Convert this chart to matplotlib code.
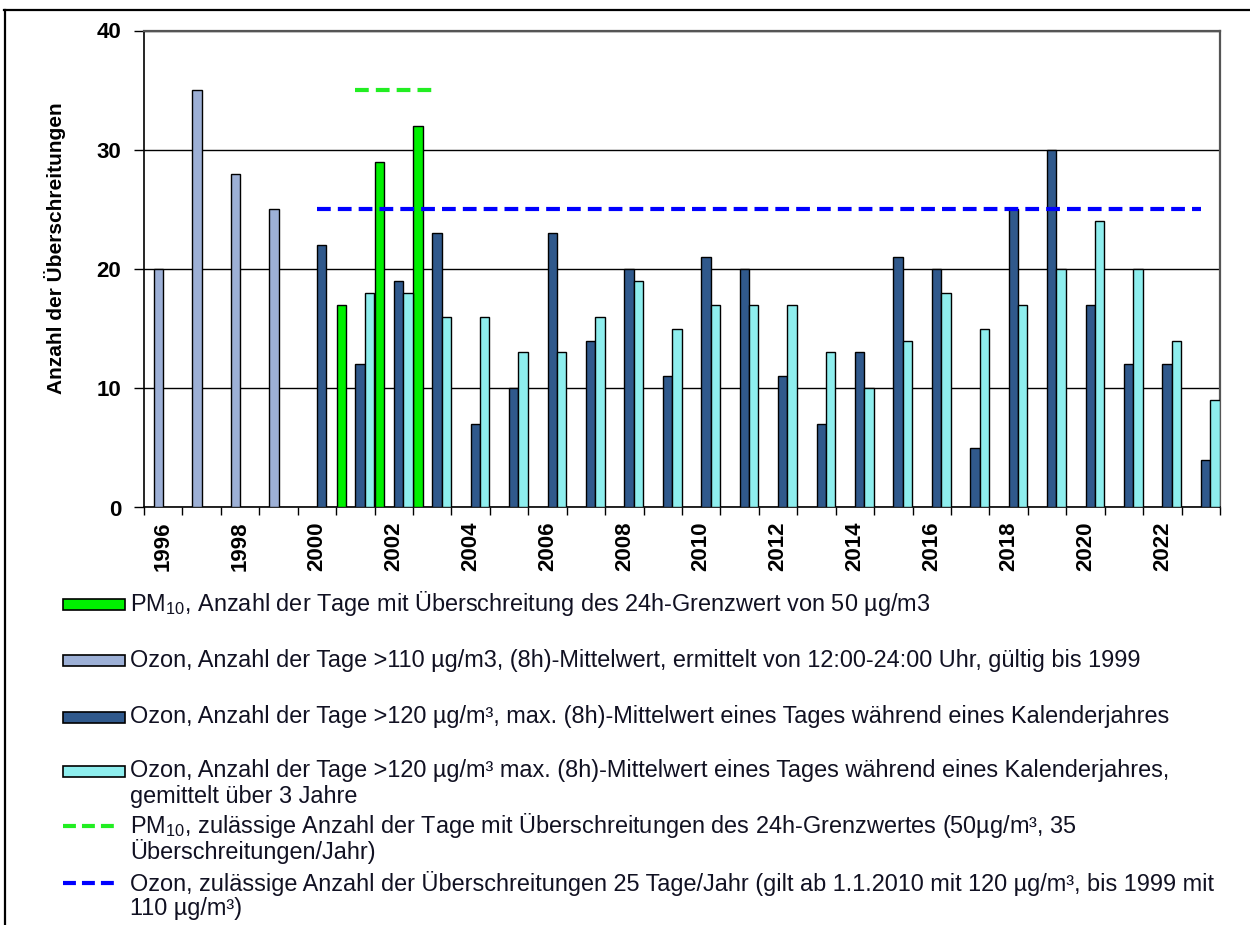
import numpy as np
import matplotlib
matplotlib.use("Agg")
import matplotlib.pyplot as plt
from matplotlib.patches import Rectangle
from matplotlib.lines import Line2D

plt.rcParams['font.family'] = ['Liberation Sans', 'DejaVu Sans']
plt.rcParams['mathtext.fontset'] = 'custom'
plt.rcParams['mathtext.rm'] = 'Liberation Sans'
plt.rcParams['mathtext.it'] = 'Liberation Sans:italic'
plt.rcParams['mathtext.bf'] = 'Liberation Sans:bold'

nan = np.nan
years = list(range(1996, 2024))
pm10 = [nan, nan, nan, nan, nan, 17, 29, 32] + [nan] * 20
ozon110 = [20, 35, 28, 25] + [nan] * 24
ozon120 = [nan] * 4 + [22, 12, 19, 23, 7, 10, 23, 14, 20, 11, 21, 20, 11, 7,
                       13, 21, 20, 5, 25, 30, 17, 12, 12, 4]
ozon120_3j = [nan] * 5 + [18, 18, 16, 16, 13, 13, 16, 19, 15, 17, 17, 17, 13,
                          10, 14, 18, 15, 17, 20, 24, 20, 14, 9]
pm10_limit_years = [2001, 2002, 2003]
pm10_limit = [35, 35, 35]
ozon_limit_years = list(range(2000, 2024))
ozon_limit = [25] * len(ozon_limit_years)

labels = [
    ["PM$_{10}$, Anzahl der Tage mit Überschreitung des 24h-Grenzwert von 50 µg/m3"],
    ["Ozon, Anzahl der Tage >110 µg/m3, (8h)-Mittelwert, ermittelt von 12:00-24:00 Uhr, gültig bis 1999"],
    ["Ozon, Anzahl der Tage >120 µg/m³, max. (8h)-Mittelwert eines Tages während eines Kalenderjahres"],
    ["Ozon, Anzahl der Tage >120 µg/m³ max. (8h)-Mittelwert eines Tages während eines Kalenderjahres,",
     "gemittelt über 3 Jahre"],
    ["PM$_{10}$, zulässige Anzahl der Tage mit Überschreitungen des 24h-Grenzwertes (50µg/m³, 35",
     "Überschreitungen/Jahr)"],
    ["Ozon, zulässige Anzahl der Überschreitungen 25 Tage/Jahr (gilt ab 1.1.2010 mit 120 µg/m³, bis 1999 mit",
     "110 µg/m³)"],
]

c_green = '#00F000'
c_gray = '#9DB0D6'
c_dark = '#30598C'
c_cyan = '#8EEEEE'
c_line_green = '#22EE22'
c_line_blue = '#0000FF'

W, H = 1250, 925
fig = plt.figure(figsize=(W / 100, H / 100), dpi=100)
ax = fig.add_axes([144 / W, 1 - 507.5 / H, 1076 / W, 477 / H])

x = np.arange(len(years))
bw = 0.245
series = [(pm10, c_green), (ozon110, c_gray), (ozon120, c_dark), (ozon120_3j, c_cyan)]
for i, (vals, col) in enumerate(series):
    ax.bar(x + (i - 1.5) * bw, vals, width=bw, color=col, edgecolor='black',
           linewidth=1.0, zorder=3)

dash = (3.3, 1.7)
xi = [years.index(y) for y in pm10_limit_years]
ax.plot(xi, pm10_limit, color=c_line_green, lw=3, dashes=dash, zorder=4,
        dash_capstyle='butt')
xi = [years.index(y) for y in ozon_limit_years]
ax.plot(xi, ozon_limit, color=c_line_blue, lw=3, dashes=dash, zorder=4,
        dash_capstyle='butt')

ax.set_xlim(-0.5, len(years) - 0.5)
ax.set_ylim(0, 40)
ax.set_yticks([0, 10, 20, 30, 40])
ax.yaxis.grid(True, color='black', linewidth=1.0, zorder=0)
ax.set_axisbelow(True)
ax.tick_params(axis='y', length=7, width=1.0, pad=9.5, labelsize=16)
for t in ax.get_yticklabels():
    t.set_fontweight('bold')

ax.set_xticks(np.arange(-0.5, len(years), 1.0))
ax.set_xticklabels([])
ax.tick_params(axis='x', which='major', length=6, width=1.0)
ax.set_xticks(x[::2], minor=True)
ax.set_xticklabels([str(y) for y in years[::2]], minor=True, rotation=90,
                   fontsize=16, fontweight='bold')
ax.tick_params(axis='x', which='minor', length=0, pad=10)

for s in ['left', 'bottom']:
    ax.spines[s].set_color('black')
    ax.spines[s].set_linewidth(1.2)
for s in ['top', 'right']:
    ax.spines[s].set_color('#555555')
    ax.spines[s].set_linewidth(1.6)

fig.text(55 / W, 1 - 248 / H, 'Anzahl der Überschreitungen', rotation=90,
         ha='center', va='center', fontsize=15, fontweight='bold')

# outer frame (top and left edges visible)
fig.add_artist(Line2D([4 / W, 1.0], [1 - 9.5 / H] * 2, transform=fig.transFigure,
                      color='black', lw=1.6))
fig.add_artist(Line2D([5 / W] * 2, [0, 1 - 9.5 / H], transform=fig.transFigure,
                      color='black', lw=1.6))

# legend
fs = 15.5
probe = fig.text(0, 0, labels[2][0], fontsize=fs)
fig.canvas.draw()
wpx = probe.get_window_extent().width
probe.remove()
fs = fs * 1036.0 / wpx

row_y = [604, 660, 717, 771, 826, 883]
kinds = ['bar', 'bar', 'bar', 'bar', 'line', 'line']
colors = [c_green, c_gray, c_dark, c_cyan, c_line_green, c_line_blue]
for y, kind, col, lines in zip(row_y, kinds, colors, labels):
    if kind == 'bar':
        fig.add_artist(Rectangle((63 / W, 1 - (y + 5.5) / H), 62 / W, 11 / H,
                                 transform=fig.transFigure, facecolor=col,
                                 edgecolor='black', lw=1.2))
    else:
        fig.add_artist(Line2D([63 / W, 114 / W], [1 - y / H] * 2,
                              transform=fig.transFigure, color=col, lw=3,
                              dashes=(3.1, 1.45), dash_capstyle='butt'))
    for k, line in enumerate(lines):
        fig.text(130 / W, 1 - (y + 25 * k) / H, line, fontsize=fs,
                 ha='left', va='center', color='#111122')

fig.savefig('out.png', dpi=100)
